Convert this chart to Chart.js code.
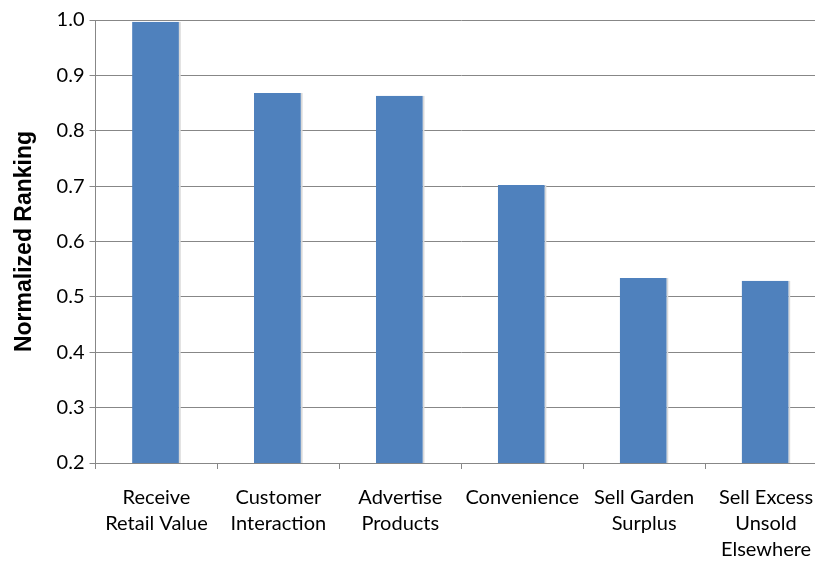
<!DOCTYPE html>
<html>
<head>
<meta charset="utf-8">
<script src="https://cdn.jsdelivr.net/npm/chart.js@4"></script>
<style>
  html, body { margin: 0; padding: 0; background: #fff; overflow: hidden; }
  #wrap { width: 840px; height: 563px; }
</style>
</head>
<body>
<div id="wrap"><canvas id="ranking-chart" width="840" height="563"></canvas></div>
<script>
const categories = [
    ['Receive', 'Retail Value'],
    ['Customer', 'Interaction'],
    ['Advertise', 'Products'],
    ['Convenience'],
    ['Sell Garden', 'Surplus'],
    ['Sell Excess', 'Unsold', 'Elsewhere']
];
const rankings = [0.997, 0.868, 0.863, 0.702, 0.534, 0.529];
const yTicks = [0.2, 0.3, 0.4, 0.5, 0.6, 0.7, 0.8, 0.9, 1.0];

const labelFont = { family: 'Lato, "Liberation Sans", sans-serif', size: 20, lineHeight: 1.3 };

const ctx = document.getElementById('ranking-chart').getContext('2d');

new Chart(ctx, {
    type: 'bar',
    data: {
        labels: categories,
        datasets: [{
            label: 'Normalized Ranking',
            data: rankings,
            backgroundColor: '#4F81BD',
            borderColor: '#D9D9D9',
            borderWidth: { right: 2, left: 0, top: 0, bottom: 0 },
            categoryPercentage: 0.4,
            barPercentage: 1.0
        }]
    },
    options: {
        responsive: false,
        animation: false,
        // the x labels reserve more room than they use, so pull the bottom in
        layout: { padding: { top: 20, right: 13, left: 11, bottom: -16 } },
        plugins: {
            legend: { display: false },
            tooltip: { enabled: false }
        },
        scales: {
            x: {
                grid: {
                    offset: true,
                    drawOnChartArea: false,
                    drawTicks: true,
                    tickLength: 6,
                    color: '#878787'
                },
                border: { color: '#878787', width: 1 },
                ticks: {
                    color: '#000',
                    font: labelFont,
                    maxRotation: 0,
                    autoSkip: false,
                    padding: 16
                }
            },
            y: {
                min: 0.2,
                max: 1.0,
                afterBuildTicks: axis => { axis.ticks = yTicks.map(v => ({ value: v })); },
                grid: {
                    color: '#878787',
                    tickLength: 6
                },
                border: { color: '#878787', width: 1 },
                ticks: {
                    color: '#000',
                    font: labelFont,
                    padding: 5,
                    callback: v => Number(v).toFixed(1)
                },
                title: {
                    display: true,
                    text: 'Normalized Ranking',
                    color: '#000',
                    font: { family: '"Liberation Sans", Arial, sans-serif', size: 23, weight: 'bold' },
                    padding: { top: 0, bottom: 13 }
                }
            }
        }
    }
});
</script>
</body>
</html>
